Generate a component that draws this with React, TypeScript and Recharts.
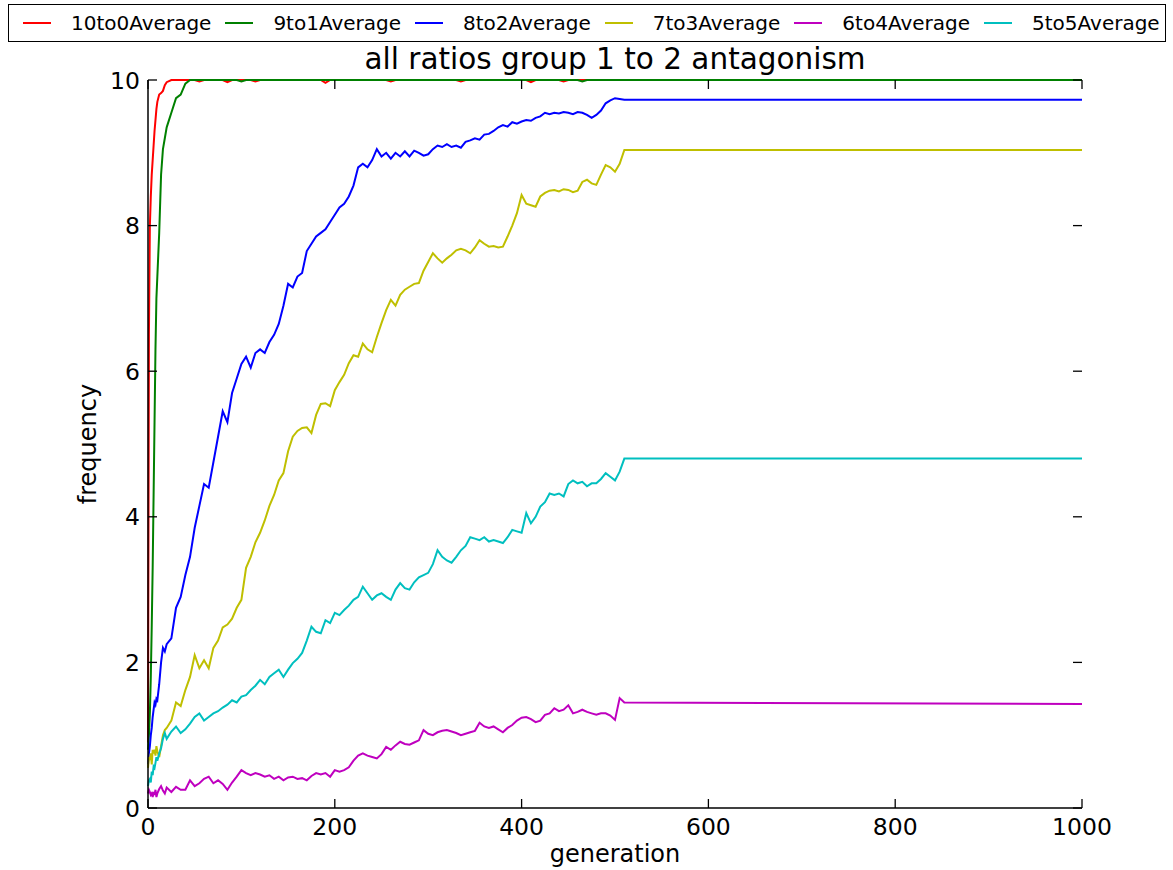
import React from 'react'
import { LineChart, Line, XAxis, YAxis, Label } from 'recharts'

// generation grid (denser at the start where the curves climb fast)
const generations = [
  0, 1, 2, 3, 4, 5, 6, 7, 8, 9, 10, 12, 14, 16, 18, 20,
  25, 30, 35, 40, 45, 50, 55, 60, 65, 70,
  75, 80, 85, 90, 95, 100, 105, 110, 115, 120,
  125, 130, 135, 140, 145, 150, 155, 160, 165, 170,
  175, 180, 185, 190, 195, 200, 205, 210, 215, 220,
  225, 230, 235, 240, 245, 250, 255, 260, 265, 270,
  275, 280, 285, 290, 295, 300, 305, 310, 315, 320,
  325, 330, 335, 340, 345, 350, 355, 360, 365, 370,
  375, 380, 385, 390, 395, 400, 405, 410, 415, 420,
  425, 430, 435, 440, 445, 450, 455, 460, 465, 470,
  475, 480, 485, 490, 495, 500, 505, 510,
  1000,
]

const avg10to0 = [
  0.9, 6.5, 8.0, 8.4, 8.7, 8.9, 9.1, 9.3, 9.45, 9.6, 9.7, 9.8, 9.82, 9.85, 9.93, 9.97,
  10, 10, 10, 10, 10, 10, 9.98, 10, 10, 10,
  10, 10, 9.97, 10, 10, 10, 10, 10, 9.98, 10,
  10, 10, 10, 10, 10, 10, 10, 10, 10, 10,
  10, 10, 10, 9.96, 10, 10, 10, 10, 10, 10,
  10, 10, 10, 10, 10, 10, 10, 9.98, 10, 10,
  10, 10, 10, 10, 10, 10, 10, 10, 10, 10,
  10, 10, 9.98, 10, 10, 10, 10, 10, 10, 10,
  10, 10, 10, 10, 10, 10, 10, 9.97, 10, 10,
  10, 10, 10, 10, 9.98, 10, 10, 10, 10, 10,
  10, 10, 10, 10, 10, 10, 10, 10,
  10,
]

const avg9to1 = [
  0.8, 1.0, 1.3, 1.8, 2.5, 3.3, 4.3, 5.3, 6.3, 7.0, 7.3, 7.9, 8.7, 9.05, 9.2, 9.35,
  9.55, 9.75, 9.8, 9.95, 10, 10, 10, 10, 10, 10,
  10, 10, 10, 10, 10, 9.98, 10, 10, 10, 10,
  10, 10, 10, 10, 10, 10, 10, 10, 10, 10,
  10, 10, 10, 10, 10, 10, 10, 10, 10, 10,
  10, 10, 10, 10, 10, 10, 10, 10, 10, 10,
  10, 10, 10, 10, 10, 10, 10, 10, 10, 10,
  10, 10, 10, 10, 10, 10, 10, 10, 10, 10,
  10, 10, 10, 10, 10, 10, 10, 10, 10, 10,
  10, 10, 10, 10, 10, 10, 10, 10, 9.98, 10,
  10, 10, 10, 10, 10, 10, 10, 10,
  10,
]

const avg8to2 = [
  0.6, 0.75, 0.85, 1.0, 1.1, 1.25, 1.35, 1.45, 1.42, 1.5, 1.48, 1.7, 2.0, 2.2, 2.15, 2.25,
  2.33, 2.75, 2.9, 3.2, 3.45, 3.85, 4.15, 4.45, 4.4, 4.75,
  5.1, 5.45, 5.3, 5.7, 5.9, 6.1, 6.2, 6.05, 6.25, 6.3,
  6.25, 6.4, 6.5, 6.65, 6.9, 7.2, 7.15, 7.3, 7.35, 7.65,
  7.75, 7.85, 7.9, 7.95, 8.05, 8.15, 8.25, 8.3, 8.4, 8.55,
  8.8, 8.85, 8.8, 8.9, 9.05, 8.95, 9.0, 8.92, 9.0, 8.95,
  9.02, 8.95, 9.03, 9.0, 8.96, 8.98, 9.05, 9.1, 9.08, 9.12,
  9.08, 9.1, 9.07, 9.15, 9.17, 9.2, 9.18, 9.25, 9.26, 9.3,
  9.35, 9.38, 9.36, 9.42, 9.4, 9.43, 9.45, 9.44, 9.48, 9.5,
  9.55, 9.53, 9.55, 9.54, 9.56, 9.55, 9.53, 9.56, 9.55, 9.52,
  9.48, 9.52, 9.58, 9.68, 9.72, 9.75, 9.74, 9.73,
  9.73,
]

const avg7to3 = [
  0.55, 0.7, 0.66, 0.75, 0.6, 0.8, 0.75, 0.8, 0.72, 0.85, 0.78, 0.7, 0.85, 1.0, 1.07, 1.1,
  1.2, 1.45, 1.4, 1.62, 1.8, 2.1, 1.92, 2.03, 1.92, 2.2,
  2.3, 2.48, 2.52, 2.6, 2.75, 2.86, 3.3, 3.45, 3.65, 3.78,
  3.95, 4.15, 4.3, 4.5, 4.6, 4.9, 5.1, 5.18, 5.22, 5.23,
  5.15, 5.4, 5.55, 5.56, 5.52, 5.74, 5.85, 5.95, 6.11, 6.22,
  6.2, 6.38, 6.3, 6.26, 6.47, 6.66, 6.84, 6.98, 6.9, 7.05,
  7.12, 7.16, 7.2, 7.21, 7.38, 7.5, 7.62, 7.55, 7.49, 7.55,
  7.6, 7.66, 7.68, 7.66, 7.62, 7.7, 7.8, 7.75, 7.71, 7.72,
  7.7, 7.71, 7.85, 8.0, 8.17, 8.42, 8.3, 8.28, 8.26, 8.4,
  8.45, 8.48, 8.49, 8.47, 8.5, 8.49, 8.46, 8.48, 8.6, 8.63,
  8.58, 8.56, 8.7, 8.83, 8.8, 8.74, 8.85, 9.04,
  9.04,
]

const avg6to4 = [
  0.2, 0.25, 0.22, 0.18, 0.2, 0.15, 0.22, 0.18, 0.25, 0.15, 0.2, 0.26, 0.3, 0.24, 0.2, 0.28,
  0.22, 0.29, 0.25, 0.25, 0.38, 0.3, 0.34, 0.4, 0.43, 0.34,
  0.38, 0.33, 0.25, 0.35, 0.43, 0.52, 0.48, 0.45, 0.48, 0.46,
  0.43, 0.45, 0.4, 0.43, 0.38, 0.42, 0.43, 0.4, 0.41, 0.38,
  0.44, 0.48, 0.46, 0.48, 0.43, 0.52, 0.5, 0.52, 0.56, 0.65,
  0.72, 0.75, 0.72, 0.7, 0.68, 0.74, 0.84, 0.8, 0.86, 0.91,
  0.88, 0.87, 0.9, 0.93, 1.07, 1.02, 1.0, 1.04, 1.06, 1.07,
  1.05, 1.03, 1.0, 1.02, 1.04, 1.06, 1.17, 1.12, 1.1, 1.12,
  1.08, 1.04, 1.1, 1.14, 1.2, 1.24, 1.25, 1.22, 1.18, 1.2,
  1.28, 1.3, 1.37, 1.33, 1.35, 1.41, 1.3, 1.32, 1.35, 1.32,
  1.3, 1.28, 1.3, 1.3, 1.27, 1.21, 1.51, 1.45,
  1.43,
]

const avg5to5 = [
  0.3, 0.38, 0.4, 0.35, 0.5, 0.45, 0.57, 0.55, 0.62, 0.7, 0.65, 0.75, 0.82, 0.95, 1.03, 0.95,
  1.05, 1.12, 1.03, 1.08, 1.16, 1.25, 1.3, 1.2, 1.25, 1.3,
  1.33, 1.38, 1.42, 1.48, 1.45, 1.53, 1.55, 1.62, 1.68, 1.76,
  1.7, 1.8, 1.85, 1.9, 1.8, 1.9, 1.99, 2.05, 2.13, 2.3,
  2.49, 2.42, 2.4, 2.58, 2.54, 2.68, 2.65, 2.72, 2.78, 2.86,
  2.9, 3.04, 2.95, 2.86, 2.92, 2.95, 2.9, 2.86, 3.0, 3.09,
  3.02, 3.0, 3.1, 3.17, 3.2, 3.23, 3.35, 3.54, 3.45, 3.4,
  3.37, 3.45, 3.54, 3.6, 3.72, 3.7, 3.68, 3.72, 3.66, 3.68,
  3.66, 3.64, 3.72, 3.82, 3.8, 3.78, 4.05, 3.91, 4.0, 4.14,
  4.2, 4.32, 4.3, 4.32, 4.28, 4.45, 4.5, 4.46, 4.48, 4.42,
  4.46, 4.46, 4.52, 4.6, 4.55, 4.5, 4.62, 4.8,
  4.8,
]

const seriesNames = ['10to0Average', '9to1Average', '8to2Average', '7to3Average', '6to4Average', '5to5Average']
const seriesValues = [avg10to0, avg9to1, avg8to2, avg7to3, avg6to4, avg5to5]
const xTicks = [0, 200, 400, 600, 800, 1000]
const yTicks = [0, 2, 4, 6, 8, 10]

const colors = ['#ff0000', '#008000', '#0000ff', '#bfbf00', '#bf00bf', '#00bfbf']
const FONT = '"DejaVu Sans", sans-serif'
const TICK_LEN = 9
const CHART_W = 1173
const CHART_H = 870
const MARGIN = { top: 80, right: 91, left: 88, bottom: 2 }
// frame edges opposite the labelled axes (matplotlib draws ticks on all four sides)
const FRAME_TOP = MARGIN.top
const FRAME_RIGHT = CHART_W - MARGIN.right

const data = generations.map((g, i) => {
  const row: Record<string, number> = { generation: g }
  seriesNames.forEach((name, s) => {
    row[name] = seriesValues[s][i]
  })
  return row
})

function BottomTick({ x, y, payload }: any) {
  return (
    <g>
      <line x1={x} y1={y} x2={x} y2={y - TICK_LEN} stroke="#000" strokeWidth={1.3} />
      <line x1={x} y1={FRAME_TOP} x2={x} y2={FRAME_TOP + TICK_LEN} stroke="#000" strokeWidth={1.3} />
      <text x={x} y={y + 27} textAnchor="middle" fontFamily={FONT} fontSize={23.5} fill="#000">
        {payload.value}
      </text>
    </g>
  )
}

function LeftTick({ x, y, payload }: any) {
  return (
    <g>
      <line x1={x} y1={y} x2={x + TICK_LEN} y2={y} stroke="#000" strokeWidth={1.3} />
      <line x1={FRAME_RIGHT} y1={y} x2={FRAME_RIGHT - TICK_LEN} y2={y} stroke="#000" strokeWidth={1.3} />
      <text x={x - 8} y={y + 8.5} textAnchor="end" fontFamily={FONT} fontSize={23.5} fill="#000">
        {payload.value}
      </text>
    </g>
  )
}

export default function App() {
  return (
    <div style={{ position: 'absolute', left: 0, top: 0, width: CHART_W, height: CHART_H, background: '#fff' }}>
      <LineChart width={CHART_W} height={CHART_H} data={data} margin={MARGIN}>
        <XAxis
          dataKey="generation"
          type="number"
          domain={[0, 1000]}
          ticks={xTicks}
          interval={0}
          height={60}
          tickSize={0}
          tickMargin={0}
          tick={BottomTick}
          axisLine={{ stroke: '#000', strokeWidth: 1.5 }}
          tickLine={false}
        >
          <Label
            content={(p: any) => (
              <text x={p.viewBox.x + p.viewBox.width / 2} y={p.viewBox.y + 54} textAnchor="middle" fontFamily={FONT} fontSize={24} fill="#000">
                generation
              </text>
            )}
          />
        </XAxis>
        <XAxis
          xAxisId="top"
          orientation="top"
          dataKey="generation"
          type="number"
          domain={[0, 1000]}
          ticks={xTicks}
          height={0}
          tick={false}
          axisLine={{ stroke: '#000', strokeWidth: 1.5 }}
          tickLine={false}
        />
        <YAxis
          type="number"
          domain={[0, 10]}
          ticks={yTicks}
          interval={0}
          width={60}
          tickSize={0}
          tickMargin={0}
          tick={LeftTick}
          axisLine={{ stroke: '#000', strokeWidth: 1.5 }}
          tickLine={false}
        >
          <Label
            content={(p: any) => {
              const cx = p.viewBox.x + 8
              const cy = p.viewBox.y + p.viewBox.height / 2
              return (
                <text x={cx} y={cy} transform={`rotate(-90 ${cx} ${cy})`} textAnchor="middle" fontFamily={FONT} fontSize={24} fill="#000">
                  frequency
                </text>
              )
            }}
          />
        </YAxis>
        <YAxis
          yAxisId="right"
          orientation="right"
          type="number"
          domain={[0, 10]}
          ticks={yTicks}
          width={0}
          tick={false}
          axisLine={{ stroke: '#000', strokeWidth: 1.5 }}
          tickLine={false}
        />
        {/* invisible series so the top/right frame axes get a scale */}
        <Line
          xAxisId="top"
          yAxisId="right"
          type="linear"
          dataKey={seriesNames[0]}
          stroke="none"
          dot={false}
          activeDot={false}
          legendType="none"
          isAnimationActive={false}
        />
        {seriesNames.map((name, i) => (
          <Line
            key={name}
            type="linear"
            dataKey={name}
            stroke={colors[i]}
            strokeWidth={2}
            dot={false}
            activeDot={false}
            isAnimationActive={false}
          />
        ))}
      </LineChart>
      <div
        style={{
          position: 'absolute',
          left: 148,
          top: 45,
          width: 934,
          textAlign: 'center',
          fontFamily: FONT,
          fontSize: 29.5,
          lineHeight: '29px',
          color: '#000',
        }}
      >
        all ratios group 1 to 2 antagonism
      </div>
      <div
        style={{
          position: 'absolute',
          left: 8,
          top: 4,
          width: 1158,
          height: 38,
          boxSizing: 'border-box',
          border: '1.5px solid #000',
          background: '#fff',
          display: 'flex',
          alignItems: 'center',
          paddingLeft: 14,
          fontFamily: FONT,
          fontSize: 20,
          color: '#000',
        }}
      >
        {seriesNames.map((name, i) => (
          <div key={name} style={{ display: 'flex', alignItems: 'center', marginRight: 14 }}>
            <span style={{ display: 'inline-block', width: 28, borderTop: `2px solid ${colors[i]}`, marginRight: 20 }} />
            <span>{name}</span>
          </div>
        ))}
      </div>
    </div>
  )
}
